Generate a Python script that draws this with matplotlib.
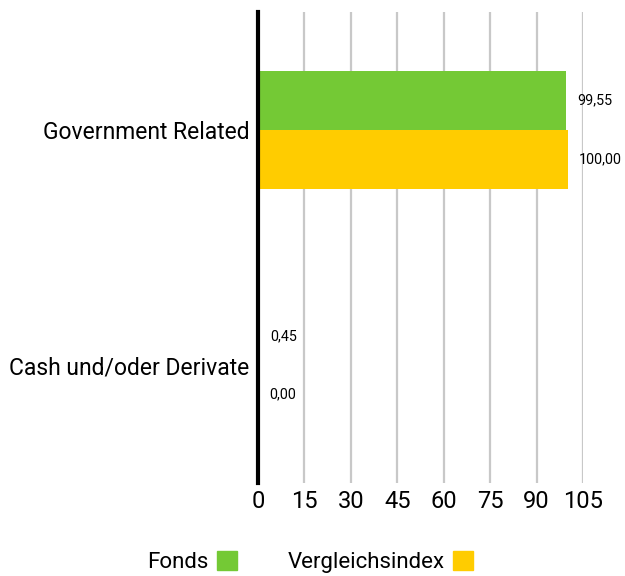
import numpy as np
import matplotlib
matplotlib.use("Agg")
import matplotlib.pyplot as plt
from matplotlib.patches import Patch

# Data
categories = ["Government Related", "Cash und/oder Derivate"]
fonds = [99.55, 0.45]
index = [100.00, 0.00]
series_names = ["Fonds", "Vergleichsindex"]
xticks = [0, 15, 30, 45, 60, 75, 90, 105]

GREEN = "#74C935"
YELLOW = "#FFCC00"

plt.rcParams["font.family"] = ["Roboto", "DejaVu Sans"]

fig = plt.figure(figsize=(6.25, 5.76), dpi=100)
ax = fig.add_axes([258 / 625, 1 - 483 / 576, (583 - 258) / 625, (483 - 12) / 576])

y = np.arange(len(categories))
h = 0.25
ax.barh(y - h / 2, fonds, height=h, color=GREEN, zorder=3)
ax.barh(y + h / 2, index, height=h, color=YELLOW, zorder=3)

def fmt(v):
    return f"{v:.2f}".replace(".", ",")

for yi, v in zip(y - h / 2, fonds):
    ax.annotate(fmt(v), (v, yi), xytext=(8, 0), textcoords="offset points",
                va="center", ha="left", fontsize=10.3)
for yi, v in zip(y + h / 2, index):
    ax.annotate(fmt(v), (v, yi), xytext=(8, 0), textcoords="offset points",
                va="center", ha="left", fontsize=10.3)

ax.set_xlim(0, 105)
ax.set_ylim(1.5, -0.5)
ax.set_xticks(xticks)
ax.set_xticklabels([str(t) for t in xticks], fontsize=17)
ax.set_yticks(y)
ax.set_yticklabels(categories, fontsize=16.5)
ax.tick_params(length=0, pad=6)
ax.tick_params(axis="x", pad=5)

ax.grid(axis="x", color="#c8c8c8", linewidth=1.6, zorder=0)
ax.grid(axis="y", visible=False)
for s in ["top", "right", "bottom"]:
    ax.spines[s].set_visible(False)
ax.spines["left"].set_linewidth(3)
ax.spines["left"].set_color("black")
ax.spines["left"].set_zorder(4)

handles = [Patch(color=GREEN), Patch(color=YELLOW)]
fig.legend(handles, series_names, loc="center", bbox_to_anchor=(310 / 625, 1 - 562 / 576),
           ncol=2, frameon=False, markerfirst=False, fontsize=16,
           handlelength=0.9, handleheight=0.9, handletextpad=0.4, columnspacing=2.25,
           borderpad=0.1)

fig.savefig("out.png", dpi=100)
